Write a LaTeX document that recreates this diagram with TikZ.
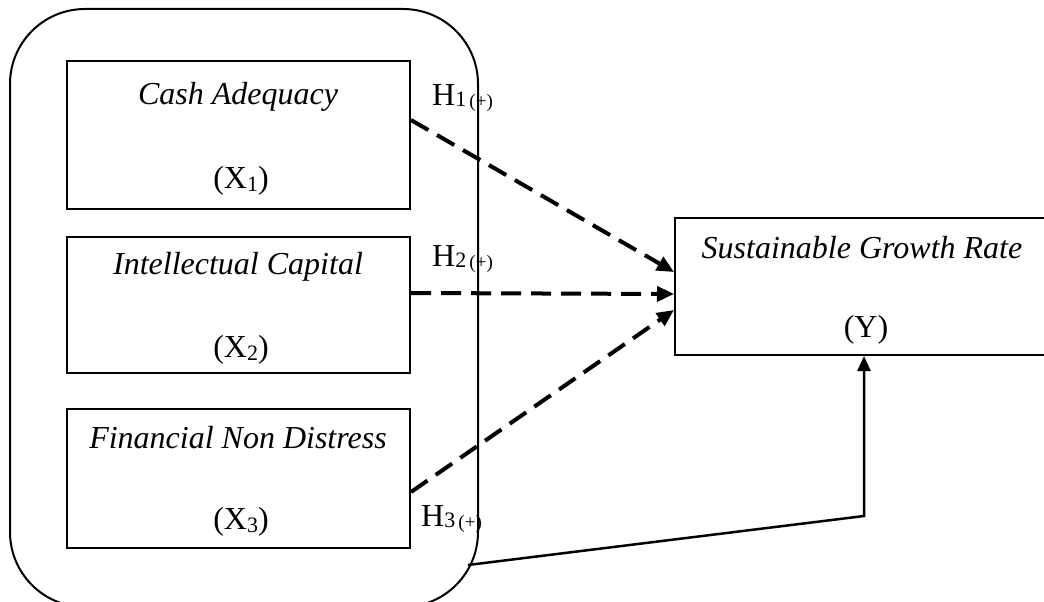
\documentclass[tikz,border=0pt]{standalone}
\usepackage{fontspec}
\setmainfont{Liberation Serif}
\usetikzlibrary{arrows.meta,calc}
\newcommand{\mysub}[1]{\raisebox{-3pt}{\fontsize{22}{24}\selectfont #1}}
\newcommand{\hsub}[1]{\raisebox{-1pt}{\fontsize{22}{24}\selectfont #1}}
\newcommand{\plus}{\raisebox{-2pt}{\fontsize{19}{20}\selectfont\,(+)}}
\tikzset{
  x=1pt, y=-1pt,
  varbox/.style={draw, line width=2pt, inner sep=0pt},
  lbl/.style={inner sep=0pt, font=\fontsize{32}{36}\selectfont},
  hyp/.style={inner sep=0pt, anchor=west, font=\fontsize{32}{36}\selectfont},
  dasharrow/.style={line width=4pt, dash pattern=on 20pt off 10pt, -{Triangle[length=17pt,width=15pt]}},
  solidarrow/.style={line width=2.5pt, -{Triangle[length=15pt,width=13pt]}}
}
\begin{document}
\begin{tikzpicture}
\clip (0,0) rectangle (1044,602);
% outer rounded frame
\node[draw, line width=2pt, rounded corners=75pt, minimum width=468pt, minimum height=598pt, inner sep=0pt] (frame) at (244,308) {};
% variable boxes
\node[varbox, minimum width=343pt, minimum height=148pt] (A) at (238.5,135) {};
\node[varbox, minimum width=343pt, minimum height=136pt] (B) at (238.5,305) {};
\node[varbox, minimum width=343pt, minimum height=139pt] (C) at (238.5,478.5) {};
\node[varbox, minimum width=371pt, minimum height=137pt] (Y) at (860.5,286.5) {};
% labels
\node[lbl] (tA) at (238,97) {\itshape Cash Adequacy};
\node[lbl] (xA) at (241,181) {(X\mysub{1})};
\node[lbl] (tB) at (238,267) {\itshape Intellectual Capital};
\node[lbl] (xB) at (241,350) {(X\mysub{2})};
\node[lbl] (tC) at (238,438) {\itshape Financial Non Distress};
\node[lbl] (xC) at (241,522) {(X\mysub{3})};
\node[lbl] (tY) at (862,248) {\itshape Sustainable Growth Rate};
\node[lbl] (xY) at (866,330) {(Y)};
% hypothesis labels
\node[hyp] (h1) at (432,98) {H\hsub{1}\plus};
\node[hyp] (h2) at (432,259) {H\hsub{2}\plus};
\node[hyp] (h3) at (421,519) {H\hsub{3}\plus};
% connectors
\draw[dasharrow] (A.east |- 0,120) -- (Y.west |- 0,272);
\draw[dasharrow] (B.east |- 0,293) -- (Y.west |- 0,294);
\draw[dasharrow] (C.east |- 0,492) -- (Y.west |- 0,310);
\coordinate (s) at (468,565);
\coordinate (k) at (864,516);
\draw[solidarrow] (s) -- (k) -- (k |- Y.south);
\end{tikzpicture}
\end{document}
